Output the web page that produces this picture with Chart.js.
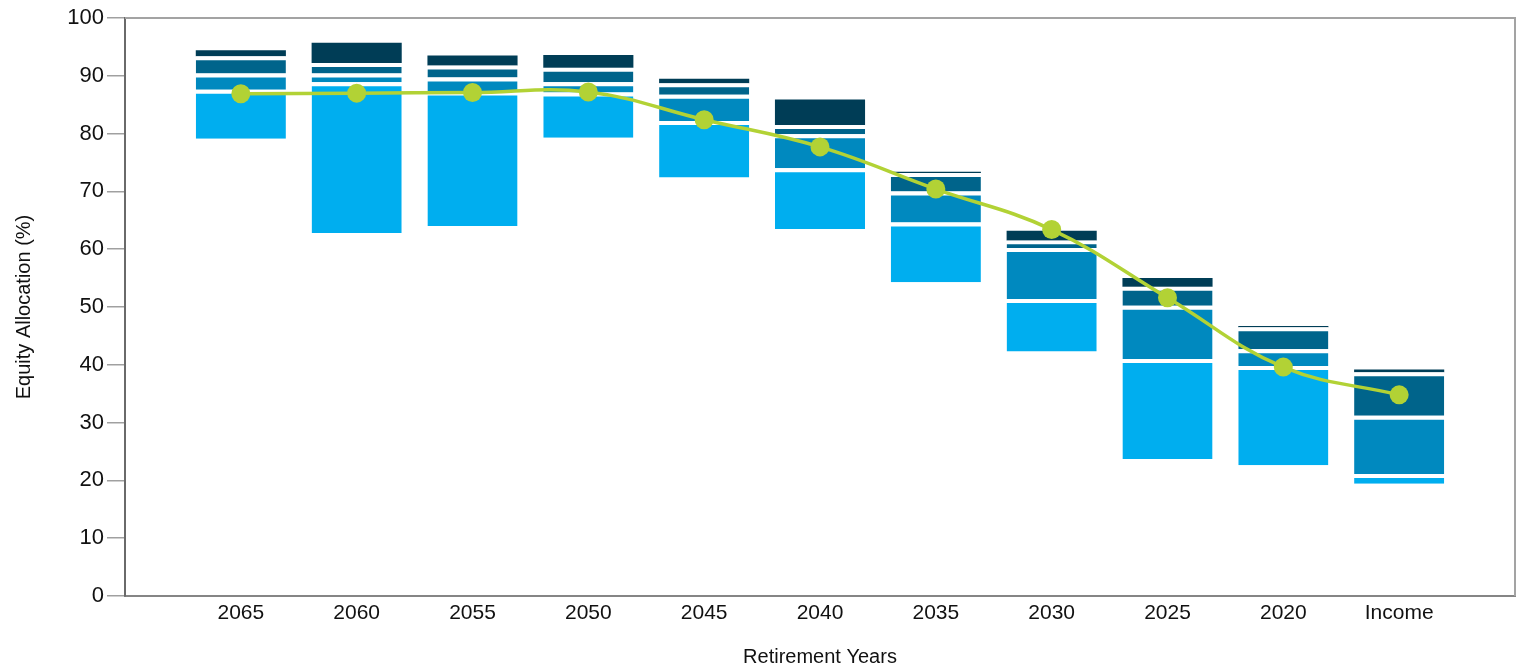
<!DOCTYPE html>
<html>
<head>
<meta charset="utf-8">
<title>Equity Allocation by Retirement Year</title>
<script src="https://cdn.jsdelivr.net/npm/chart.js@4.4.1/dist/chart.umd.min.js"></script>
<style>
  html, body { margin: 0; padding: 0; background: #fff; }
  #wrap { width: 1519px; height: 669px; position: relative; }
</style>
</head>
<body>
<div id="wrap"><canvas id="chart"></canvas></div>
<script>
// Retirement-year funds, newest vintage on the left; blank slots pad both ends of the axis.
const categories = ['', '2065', '2060', '2055', '2050', '2045', '2040', '2035', '2030', '2025', '2020', 'Income', ''];

// Equity allocation range per fund (%): bottom of the range and the top of each band.
const rangeLow   = [null, 79.1, 62.8, 64.0, 79.3, 72.4, 63.5, 54.3, 42.3, 23.7, 22.6, 19.4, null];
const band1Top   = [null, 87.6, 88.9, 87.3, 87.1, 82.2, 74.0, 64.6, 51.4, 41.0, 39.8, 21.1, null];
const band2Top   = [null, 90.4, 90.4, 89.7, 88.9, 86.7, 79.9, 70.0, 60.2, 50.2, 42.7, 31.2, null];
const band3Top   = [null, 93.4, 92.2, 91.8, 91.4, 88.7, 81.5, 73.2, 61.5, 53.5, 46.5, 38.7, null];
const band4Top   = [null, 94.4, 95.7, 93.5, 93.6, 89.5, 85.9, 73.4, 63.2, 55.0, 46.7, 39.2, null];

// Fund's actual equity allocation (%)
const fundEquity = [null, 86.9, 87.0, 87.1, 87.2, 82.4, 77.7, 70.4, 63.4, 51.6, 39.6, 34.8, null];

const yTicks = [0, 10, 20, 30, 40, 50, 60, 70, 80, 90, 100];

const bandColors = ['#00aeef', '#0089bf', '#00648b', '#003d56'];

function spans(lo, hi) {
  return lo.map((v, i) => (v == null || hi[i] == null) ? null : [v, hi[i]]);
}

function band(data, color, isTop) {
  return {
    type: 'bar',
    data: data,
    backgroundColor: color,
    borderColor: '#ffffff',
    borderWidth: isTop ? 0 : { top: 4, right: 0, bottom: 0, left: 0 },
    borderSkipped: false,
    grouped: false,
    barPercentage: 0.778,
    categoryPercentage: 1,
    order: 2
  };
}

const FONT = "'Liberation Sans', Arial, sans-serif";

// Grey frame along the top and right edges of the plot area
const framePlugin = {
  id: 'frame',
  beforeDatasetsDraw(chart) {
    const { ctx, chartArea: a } = chart;
    ctx.save();
    ctx.strokeStyle = '#a3a3a3';
    ctx.lineWidth = 2;
    ctx.beginPath();
    ctx.moveTo(a.left, a.top);
    ctx.lineTo(a.right, a.top);
    ctx.lineTo(a.right, a.bottom);
    ctx.stroke();
    ctx.restore();
  }
};

new Chart(document.getElementById('chart'), {
  data: {
    labels: categories,
    datasets: [
      band(spans(rangeLow, band1Top), bandColors[0], false),
      band(spans(band1Top, band2Top), bandColors[1], false),
      band(spans(band2Top, band3Top), bandColors[2], false),
      band(spans(band3Top, band4Top), bandColors[3], true),
      {
        type: 'line',
        data: fundEquity,
        borderColor: '#b2d235',
        backgroundColor: '#b2d235',
        borderWidth: 3.5,
        pointRadius: 9.5,
        pointHoverRadius: 9.5,
        pointBorderWidth: 0,
        pointBackgroundColor: '#b2d235',
        tension: 0.4,
        spanGaps: false,
        order: 1
      }
    ]
  },
  options: {
    responsive: true,
    maintainAspectRatio: false,
    animation: false,
    layout: { autoPadding: false, padding: { top: 18, right: 4, left: 0, bottom: 0 } },
    plugins: {
      legend: { display: false },
      tooltip: { enabled: false }
    },
    scales: {
      x: {
        type: 'category',
        offset: false,
        grid: { display: false, drawTicks: false },
        border: { display: true, color: '#858585', width: 2 },
        ticks: {
          autoSkip: false,
          maxRotation: 0,
          padding: 5,
          color: '#111',
          font: { family: FONT, size: 21 }
        },
        title: {
          display: true,
          text: 'Retirement Years',
          color: '#111',
          font: { family: FONT, size: 20 },
          padding: { top: 12, bottom: 0 }
        },
        afterFit(scale) {
          scale.height = 73;
          scale.paddingLeft = 0;
          scale.paddingRight = 0;
        }
      },
      y: {
        min: 0,
        max: 100,
        afterBuildTicks(scale) { scale.ticks = yTicks.map(v => ({ value: v })); },
        grid: {
          drawOnChartArea: false,
          drawTicks: true,
          tickLength: 18,
          color: '#a0a0a0',
          lineWidth: 1.5
        },
        border: { display: true, color: '#6a6a6a', width: 2 },
        ticks: {
          padding: 3,
          color: '#111',
          font: { family: FONT, size: 22 }
        },
        title: {
          display: true,
          text: 'Equity Allocation (%)',
          color: '#111',
          font: { family: FONT, size: 20 },
          padding: { top: 12, bottom: 0 }
        },
        afterFit(scale) { scale.width = 125; }
      }
    }
  },
  plugins: [framePlugin]
});
</script>
</body>
</html>
